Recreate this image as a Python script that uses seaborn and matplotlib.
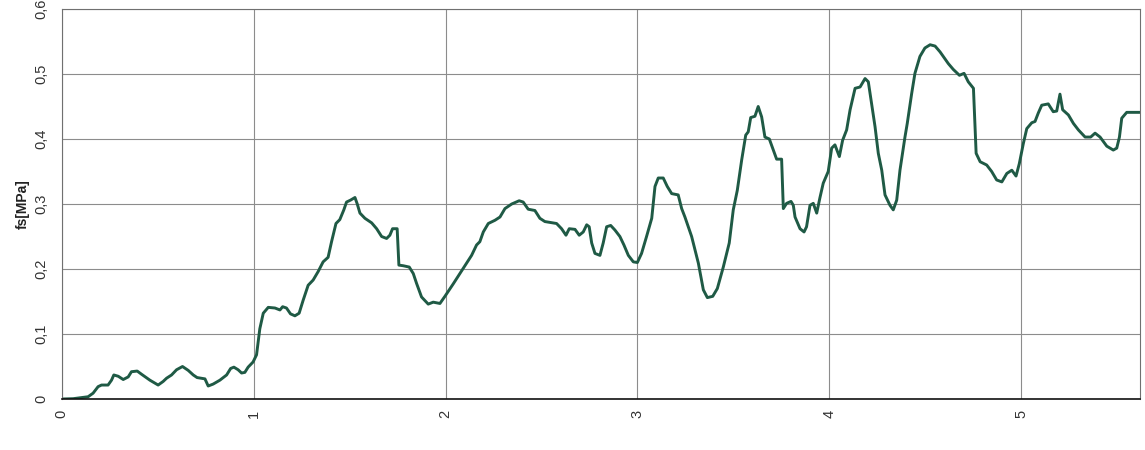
import matplotlib
matplotlib.use("Agg")
import matplotlib.pyplot as plt
from matplotlib.ticker import FuncFormatter
import numpy as np
import pandas as pd
import seaborn as sns

# Depth / position along the profile
x_pos = [
    0.000, 0.059, 0.137, 0.163, 0.189, 0.207, 0.241, 0.259, 0.271, 0.294,
    0.320, 0.346, 0.363, 0.393, 0.416, 0.459, 0.502, 0.528, 0.546, 0.572,
    0.598, 0.629, 0.659, 0.685, 0.705, 0.746, 0.763, 0.789, 0.824, 0.859,
    0.880, 0.897, 0.919, 0.937, 0.954, 0.971, 0.997, 1.015, 1.032, 1.050,
    1.076, 1.111, 1.137, 1.151, 1.171, 1.192, 1.215, 1.237, 1.258, 1.284,
    1.310, 1.336, 1.362, 1.388, 1.406, 1.429, 1.449, 1.470, 1.484, 1.505,
    1.528, 1.540, 1.554, 1.580, 1.615, 1.641, 1.667, 1.693, 1.710, 1.724,
    1.748, 1.757, 1.780, 1.811, 1.832, 1.849, 1.875, 1.910, 1.936, 1.971,
    1.997, 2.040, 2.092, 2.136, 2.162, 2.179, 2.197, 2.223, 2.258, 2.284,
    2.310, 2.345, 2.384, 2.405, 2.431, 2.466, 2.492, 2.518, 2.579, 2.605,
    2.628, 2.645, 2.675, 2.697, 2.718, 2.736, 2.749, 2.762, 2.779, 2.805,
    2.822, 2.840, 2.861, 2.883, 2.909, 2.930, 2.953, 2.979, 3.000, 3.022,
    3.048, 3.075, 3.092, 3.109, 3.135, 3.156, 3.179, 3.213, 3.231, 3.248,
    3.283, 3.318, 3.344, 3.365, 3.393, 3.417, 3.448, 3.479, 3.500, 3.521,
    3.544, 3.565, 3.578, 3.591, 3.613, 3.630, 3.648, 3.665, 3.688, 3.709,
    3.726, 3.752, 3.761, 3.778, 3.801, 3.813, 3.822, 3.848, 3.869, 3.882,
    3.900, 3.917, 3.935, 3.952, 3.969, 3.995, 4.013, 4.030, 4.053, 4.070,
    4.091, 4.109, 4.135, 4.161, 4.187, 4.204, 4.222, 4.239, 4.256, 4.274,
    4.291, 4.317, 4.334, 4.352, 4.369, 4.395, 4.407, 4.430, 4.447, 4.473,
    4.499, 4.526, 4.552, 4.578, 4.604, 4.621, 4.647, 4.679, 4.703, 4.725,
    4.752, 4.766, 4.787, 4.821, 4.847, 4.873, 4.900, 4.926, 4.952, 4.974,
    4.991, 5.012, 5.030, 5.056, 5.073, 5.090, 5.108, 5.142, 5.168, 5.186,
    5.203, 5.217, 5.247, 5.273, 5.299, 5.334, 5.363, 5.386, 5.412, 5.447,
    5.481, 5.499, 5.513, 5.525, 5.551, 5.620,
]

# Sleeve friction fs [MPa]
fs_mpa = [
    0.000, 0.0005, 0.0035, 0.009, 0.019, 0.0215, 0.0215, 0.029, 0.037, 0.035,
    0.030, 0.034, 0.042, 0.043, 0.038, 0.029, 0.0215, 0.027, 0.032, 0.037,
    0.045, 0.050, 0.044, 0.037, 0.033, 0.031, 0.020, 0.023, 0.029, 0.037,
    0.047, 0.049, 0.045, 0.040, 0.041, 0.049, 0.057, 0.068, 0.108, 0.132,
    0.141, 0.140, 0.137, 0.142, 0.140, 0.131, 0.128, 0.132, 0.152, 0.175,
    0.183, 0.196, 0.211, 0.218, 0.242, 0.270, 0.276, 0.291, 0.303, 0.306,
    0.310, 0.300, 0.286, 0.278, 0.271, 0.262, 0.250, 0.247, 0.252, 0.262,
    0.262, 0.206, 0.205, 0.203, 0.193, 0.178, 0.157, 0.146, 0.149, 0.147,
    0.158, 0.177, 0.201, 0.221, 0.237, 0.242, 0.257, 0.270, 0.275, 0.280,
    0.293, 0.300, 0.305, 0.303, 0.292, 0.290, 0.278, 0.273, 0.270, 0.262,
    0.252, 0.262, 0.261, 0.252, 0.257, 0.268, 0.265, 0.240, 0.224, 0.221,
    0.240, 0.265, 0.267, 0.260, 0.250, 0.237, 0.221, 0.211, 0.210, 0.224,
    0.250, 0.278, 0.327, 0.340, 0.340, 0.327, 0.316, 0.314, 0.293, 0.280,
    0.250, 0.209, 0.168, 0.156, 0.158, 0.170, 0.203, 0.240, 0.291, 0.321,
    0.368, 0.406, 0.411, 0.433, 0.435, 0.450, 0.434, 0.403, 0.400, 0.383,
    0.369, 0.369, 0.293, 0.301, 0.304, 0.298, 0.280, 0.262, 0.257, 0.265,
    0.298, 0.301, 0.286, 0.310, 0.332, 0.350, 0.386, 0.391, 0.373, 0.398,
    0.414, 0.445, 0.478, 0.480, 0.493, 0.488, 0.452, 0.419, 0.378, 0.352,
    0.314, 0.298, 0.291, 0.306, 0.352, 0.403, 0.424, 0.470, 0.501, 0.527,
    0.540, 0.545, 0.543, 0.534, 0.523, 0.516, 0.507, 0.498, 0.501, 0.488,
    0.478, 0.378, 0.365, 0.360, 0.350, 0.337, 0.334, 0.347, 0.352, 0.343,
    0.362, 0.393, 0.416, 0.425, 0.427, 0.440, 0.452, 0.454, 0.442, 0.443,
    0.469, 0.445, 0.437, 0.424, 0.414, 0.403, 0.403, 0.409, 0.403, 0.389,
    0.383, 0.386, 0.403, 0.432, 0.441, 0.441,
]

x_ticks = [0, 1, 2, 3, 4, 5]
y_ticks = [0.0, 0.1, 0.2, 0.3, 0.4, 0.5, 0.6]

sns.set_style("white")
plt.rcParams["font.family"] = ["Liberation Sans", "DejaVu Sans"]

df = pd.DataFrame({"x": x_pos, "fs": fs_mpa})

fig, ax = plt.subplots(figsize=(11.45, 4.5), dpi=100)
fig.subplots_adjust(left=0.054, right=0.9956, top=0.98, bottom=0.1133)

sns.lineplot(data=df, x="x", y="fs", ax=ax, color="#1f5a45", linewidth=2.1,
             estimator=None, sort=False,
             solid_joinstyle="round", solid_capstyle="round")

ax.set_xlim(0, 5.62)
ax.set_ylim(0, 0.6)
ax.set_xticks(x_ticks)
ax.set_yticks(y_ticks)

comma = FuncFormatter(lambda v, p: f"{v:g}".replace(".", ","))
ax.xaxis.set_major_formatter(comma)
ax.yaxis.set_major_formatter(comma)

ax.grid(True, color="#8c8c8c", linewidth=0.8)
ax.set_axisbelow(True)

for side in ["top", "right", "left"]:
    ax.spines[side].set_color("#707070")
    ax.spines[side].set_linewidth(0.8)
ax.spines["bottom"].set_color("#111111")
ax.spines["bottom"].set_linewidth(1.2)

ax.tick_params(axis="both", length=0, labelsize=10.5, colors="#333333")
ax.tick_params(axis="x", pad=8)
ax.tick_params(axis="y", pad=10)
for lab in ax.get_xticklabels():
    lab.set_rotation(90)
for lab in ax.get_yticklabels():
    lab.set_rotation(90)
    lab.set_va("center")

ax.set_xlabel("")
ax.set_ylabel("fs[MPa]", fontsize=10, fontweight="bold", color="#222222", labelpad=3)

fig.savefig("out.png", dpi=100)
